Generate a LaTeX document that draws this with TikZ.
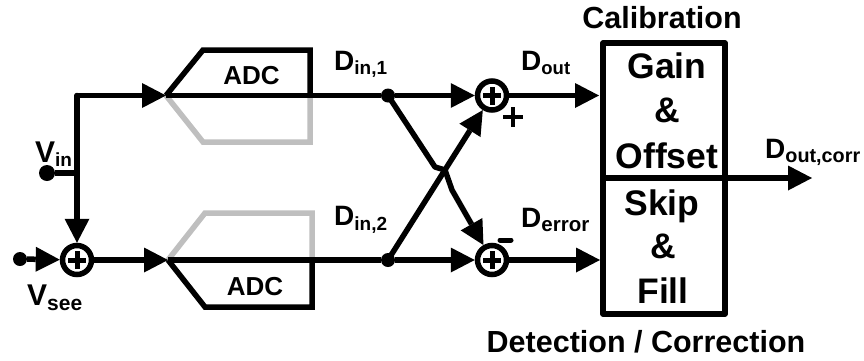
\documentclass[tikz,border=0pt]{standalone}
\usepackage{fontspec}
\setmainfont{Liberation Sans}
\usetikzlibrary{arrows.meta}
\newcommand{\subl}[5]{{\fontsize{#1}{#1}\selectfont\bfseries #2\raisebox{-#5pt}{\fontsize{#3}{#3}\selectfont\bfseries #4}}}
\tikzset{
  x=1pt,y=-1pt,
  wire/.style={line width=5.5pt,line join=round},
  atip/.style={-{Triangle[length=24pt,width=25pt,line width=0pt]}},
  awire/.style={wire,atip},
  gwire/.style={line width=5.5pt,color=black!25,line join=miter},
  sumc/.style={circle,draw,line width=5.5pt,minimum size=29pt,inner sep=0pt,fill=white},
  dotn/.style={circle,fill=black,inner sep=0pt},
  txt/.style={inner sep=0pt,font=\bfseries},
  boxt/.style={txt,anchor=base,font=\fontsize{35.5}{35.5}\selectfont\bfseries},
  adct/.style={txt,anchor=base,font=\fontsize{26}{26}\selectfont\bfseries},
  titlet/.style={txt,anchor=base,font=\fontsize{30.5}{30.5}\selectfont\bfseries},
}
\begin{document}
\begin{tikzpicture}
\useasboundingbox (0,0) rectangle (864,360);
% gray halves
\draw[gwire] (166,95.5) -- (203,142) -- (310,142) -- (310,95.5);
\draw[gwire] (168,260) -- (205,213) -- (312,213) -- (312,260);
% named points
\coordinate (top) at (77,95.5);
\coordinate (tapex) at (166,95.5);
\coordinate (bapex) at (168,260);
\coordinate (vj) at (77,173);
\node[sumc] (s0) at (77,260) {};
\node[sumc] (s1) at (492,95.5) {};
\node[sumc] (s2) at (492,260) {};
\node[dotn,minimum size=16pt] (vin) at (47,173) {};
\node[dotn,minimum size=14pt] (vsee) at (20,259) {};
\node[dotn,minimum size=14pt] (d1) at (388,95.5) {};
\node[dotn,minimum size=14pt] (d2) at (388,260) {};
% adcs
\draw[wire,line join=miter] (tapex) -- (203,50) -- (310,50) -- (310,95.5);
\draw[wire,line join=miter] (bapex) -- (205,307) -- (312,307) -- (312,260);
% input wires
\draw[awire] (top) -- (tapex);
\draw[awire] (vj) -- (s0);
\draw[wire,line cap=round] (top) -- (vj);
\draw[wire] (vin) -- (vj);
\draw[awire] (vsee) -- (s0);
\draw[awire] (s0) -- (bapex);
% main wires
\draw[wire] (tapex) -- (d1);
\draw[wire] (bapex) -- (d2);
\draw[awire] (d1) -- (s1);
\draw[awire] (d2) -- (s2);
% cross
\draw[wire,atip] (d1.center) -- (435,167) -- (445,170) -- (452,190) -- (s2);
\draw[wire,atip] (d2.center) -- (s1);
% plus marks on sums
\foreach \n in {s0,s1,s2}{
  \draw[line width=5pt] ([xshift=-9pt]\n.center) -- ([xshift=9pt]\n.center);
  \draw[line width=5pt] ([yshift=-9pt]\n.center) -- ([yshift=9pt]\n.center);
}
% box
\node[draw,line width=5.5pt,line join=round,minimum width=122pt,minimum height=271pt,inner sep=0pt,outer sep=0pt] (box) at (664,178.5) {};
\coordinate (divl) at (box.west |- 0,178);
\coordinate (divr) at (box.east |- 0,178);
\coordinate (o) at (812,178);
\draw[wire] (divl) -- (divr);
\draw[awire] (divr) -- (o);
\coordinate (t1) at ([xshift=-4pt]box.west |- s1);
\coordinate (t2) at ([xshift=-3pt]box.west |- s2);
\draw[awire] (s1) -- (t1);
\draw[awire] (s2) -- (t2);
% marks
\draw[line width=4.8pt] (503,117) -- (523,117) (513,107) -- (513,127);
\draw[line width=5pt,line cap=round] (500,240) -- (511,240);
% labels
\node[adct] (a1) at (251.5,84) {ADC};
\node[adct] (a2) at (255,295) {ADC};
\node[txt,anchor=base west] (vinl) at (35,162) {\subl{30}{V}{19}{in}{4}};
\node[txt,anchor=base west] (vseel) at (27,305) {\subl{30}{V}{21}{see}{5}};
\node[txt,anchor=base west] (di1) at (334,70) {\subl{28}{D}{19}{in,1}{4}};
\node[txt,anchor=base west] (di2) at (334,225) {\subl{28}{D}{19}{in,2}{5}};
\node[txt,anchor=base west] (dout) at (521,70) {\subl{28}{D}{18.5}{out}{4}};
\node[txt,anchor=base west] (derr) at (521,227) {\subl{28}{D}{20.5}{error}{4}};
\node[txt,anchor=base west] (dcorr) at (765,158) {\subl{28}{D}{19.8}{out,corr}{4}};
\node[titlet] (cal) at (662,28) {Calibration};
\node[titlet] (det) at (646,352) {Detection / Correction};
\node[boxt] (b1) at (667,78) {Gain};
\node[boxt] (b2) at (667,122) {\&};
\node[boxt] (b3) at (667,168) {Offset};
\node[boxt] (b4) at (662,215) {Skip};
\node[boxt] (b5) at (663,258) {\&};
\node[boxt] (b6) at (663,303) {Fill};
\end{tikzpicture}
\end{document}
